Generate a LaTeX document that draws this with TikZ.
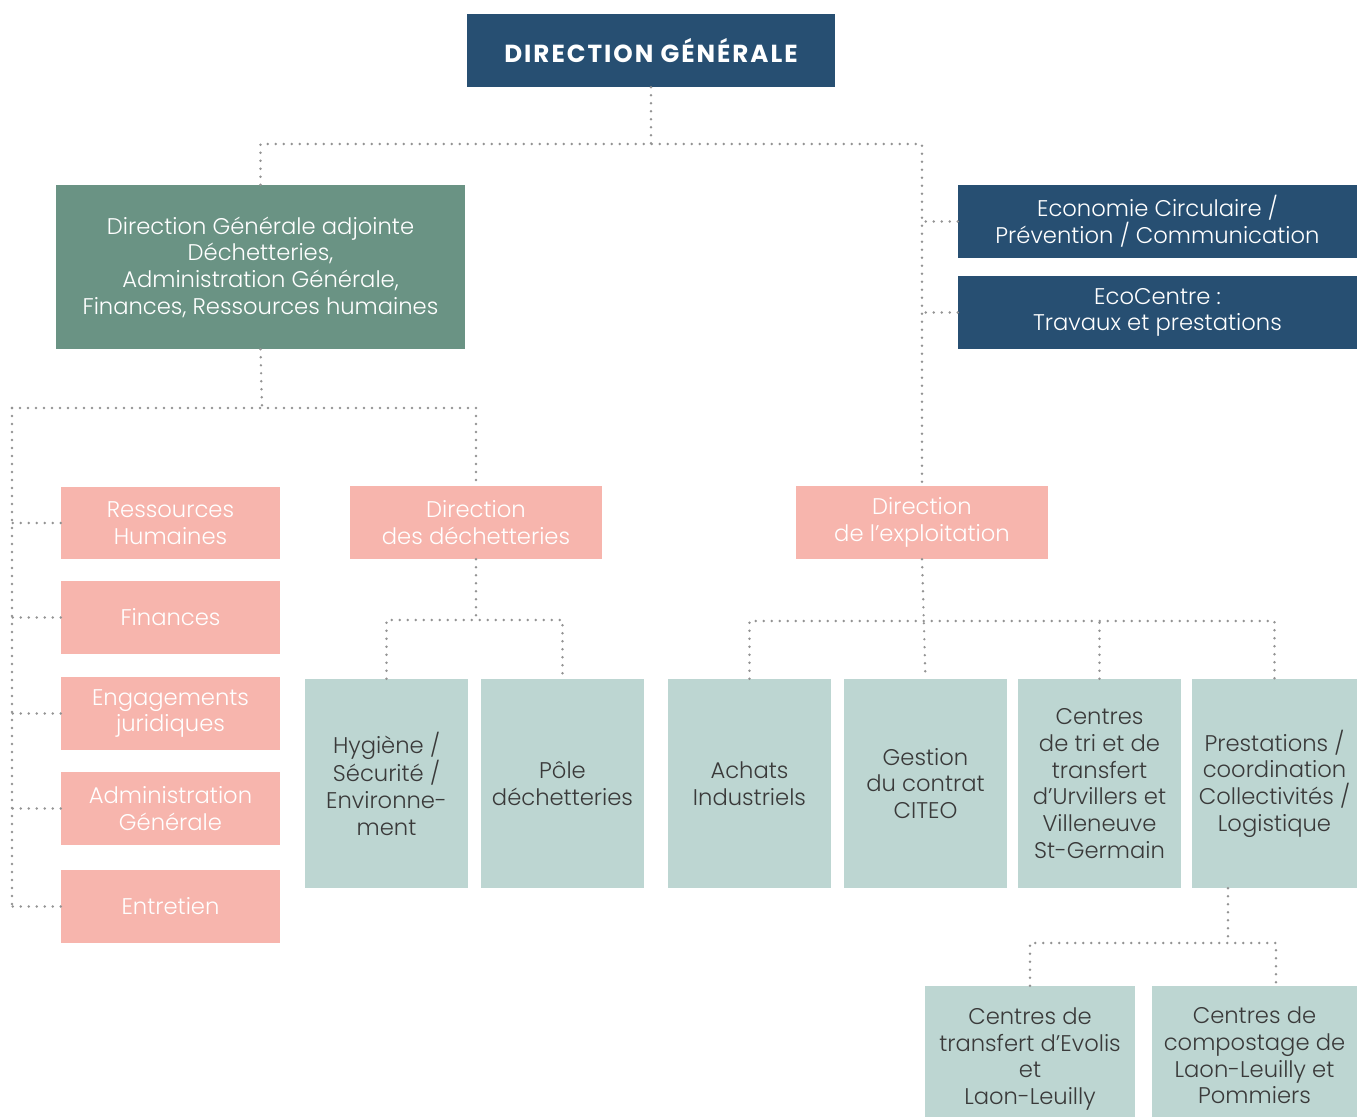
\documentclass[tikz,border=0pt]{standalone}
\usepackage{fontspec}
\setmainfont{Poppins}[UprightFont={* Light}, BoldFont={* Bold}]
\definecolor{navy}{HTML}{274F72}
\definecolor{sage}{HTML}{6A9384}
\definecolor{salmon}{HTML}{F7B5AD}
\definecolor{mist}{HTML}{BDD6D2}
\definecolor{ink}{HTML}{3A3A3A}
\definecolor{dotgray}{HTML}{939393}
\begin{document}
\begin{tikzpicture}[x=0.75pt,y=-0.75pt,
  base/.style={inner sep=0pt, align=center, font=\fontsize{17}{20}\selectfont},
  wh/.style 2 args={minimum width=#1*0.75pt, minimum height=#2*0.75pt},
  navybox/.style={base, fill=navy, text=white},
  sagebox/.style={base, fill=sage, text=white},
  pinkbox/.style={base, fill=salmon, text=white},
  tealbox/.style={base, fill=mist, text=ink},
  dots/.style={draw=dotgray, line width=2pt, dash pattern=on 0pt off 6pt, line cap=round}]
\useasboundingbox (0,0) rectangle (1357,1117);
% top
\node[navybox, wh={368}{73}, font=\bfseries\fontsize{18.5}{21}\selectfont\addfontfeatures{LetterSpace=8}] (DG) at (651,50.5) {DIRECTION GÉNÉRALE};
\node[sagebox, wh={409}{164}] (DGA) at (260.5,267) {Direction Générale adjointe\\Déchetteries,\\Administration Générale,\\Finances, Ressources humaines};
\node[navybox, wh={399}{73}] (Eco) at (1157.5,221.5) {Economie Circulaire /\\Prévention / Communication};
\node[navybox, wh={399}{73}] (EcoC) at (1157.5,312.5) {EcoCentre :\\Travaux et prestations};
% left column
\node[pinkbox, wh={219}{72}] (RH) at (170.5,523) {Ressources\\Humaines};
\node[pinkbox, wh={219}{73}] (Fin) at (170.5,617.5) {Finances};
\node[pinkbox, wh={219}{73}] (Eng) at (170.5,713.5) {Engagements\\juridiques};
\node[pinkbox, wh={219}{73}] (Adm) at (170.5,808.5) {Administration\\Générale};
\node[pinkbox, wh={219}{73}] (Ent) at (170.5,906.5) {Entretien};
% directions
\node[pinkbox, wh={252}{73}] (DD) at (476,522.5) {Direction\\des déchetteries};
\node[pinkbox, wh={252}{73}] (DE) at (922,522.5) {Direction\\de l’exploitation};
% teal row
\node[tealbox, wh={163}{209}] (Hyg) at (386.5,783.5) {Hygiène /\\Sécurité /\\Environne-\\ment};
\node[tealbox, wh={163}{209}] (Pole) at (562.5,783.5) {Pôle\\déchetteries};
\node[tealbox, wh={163}{209}] (Ach) at (749.5,783.5) {Achats\\Industriels};
\node[tealbox, wh={163}{209}] (Gest) at (925.5,783.5) {Gestion\\du contrat\\CITEO};
\node[tealbox, wh={163}{209}] (Cen) at (1099.5,783.5) {Centres\\de tri et de\\transfert\\d’Urvillers et\\Villeneuve\\St-Germain};
\node[tealbox, wh={165}{209}] (Prest) at (1274.5,783.5) {Prestations /\\coordination\\Collectivités /\\Logistique};
% bottom
\node[tealbox, wh={210}{146}] (CT) at (1030,1059) {Centres de\\transfert d’Evolis\\et\\Laon-Leuilly};
\node[tealbox, wh={205}{146}, anchor=north] (CC) at (1254.5,986) {};
\node[base, text=ink] (CCt) at (1254.5,1055.5) {Centres de\\compostage de\\Laon-Leuilly et\\Pommiers};
% connectors
\coordinate (b1) at (651,144);
\draw[dots] (DG.south) -- (b1);
\draw[dots] (DGA.north) |- (b1) -| (DE.north);
\draw[dots] (Eco.west) -- (Eco.west -| DE.north);
\draw[dots] (EcoC.west) -- (EcoC.west -| DE.north);
\coordinate (b2) at (262,408);
\coordinate (L) at (12,408);
\draw[dots] (DGA.south) -- (b2);
\draw[dots] (L) -| (DD.north);
\draw[dots] (L) -- (L |- Ent.west);
\foreach \n in {RH,Fin,Eng,Adm,Ent} \draw[dots] (\n.west) -- (\n.west -| L);
\coordinate (b3) at (476,620);
\draw[dots] (DD.south) -- (b3);
\draw[dots] (Hyg.north) |- (b3) -| (Pole.north);
\coordinate (b4) at (925,621);
\draw[dots] (DE.south) -- (Gest.north);
\draw[dots] (Ach.north) |- (b4) -| (Prest.north);
\draw[dots] (Cen.north) -- (Cen.north |- b4);
\coordinate (b5) at (1228,943);
\coordinate (b6) at (1276,943);
\draw[dots] (b5 |- Prest.south) -- (b5);
\draw[dots] (CT.north) |- (b6) -- (b6 |- CC.north);
\end{tikzpicture}
\end{document}
